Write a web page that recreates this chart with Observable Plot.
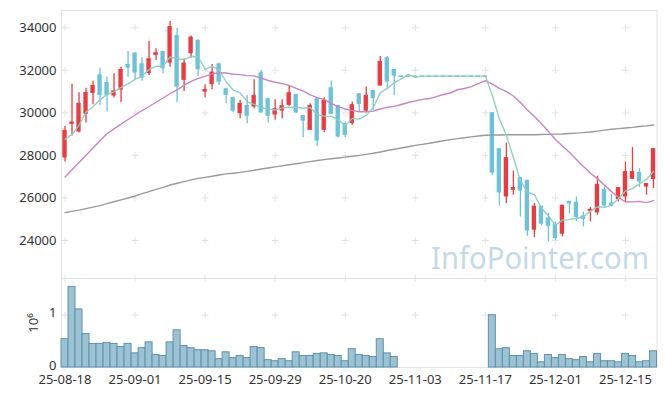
<!DOCTYPE html>
<html><head><meta charset="utf-8">
<script src="https://cdn.jsdelivr.net/npm/d3@7"></script>
<script src="https://cdn.jsdelivr.net/npm/@observablehq/plot@0.6"></script>
<style>
body{margin:0;background:#fff;}
#chart{position:relative;width:665px;height:396px;overflow:hidden;background:#fff;}
#chart svg{position:absolute;left:0;}
</style></head><body><div id="chart"></div>
<script>
// x positions are trading-day indices; labels every 10 trading days
const tickIndex = [0, 10, 20, 30, 40, 50, 60, 70, 80];
const tickLabels = ["25-08-18", "25-09-01", "25-09-15", "25-09-29", "25-10-20", "25-11-03", "25-11-17", "25-12-01", "25-12-15"];
const priceTicks = [24000, 26000, 28000, 30000, 32000, 34000];

const H = 31728; // trading halt: price held at last close (days 48-60)
const open  = [27880,29460,29100,29930,30915,31790,31430,30790,31070,32280,32810,32310,31840,32700,32890,32340,33640,31526,32780,33400,30976,31324,32310,31136,30715,29962,30352,30272,31887,30667,29897,30084,30352,30868,29882,29178,30667,29178,31183,30352,29493,29493,30901,30084,31056,31258,32591,32042,
  H,H,H,H,H,H,H,H,H,H,H,H,H,
  30010,28319,26047,26360,26958,26831,24483,25610,25061,24765,24295,25845,25798,25155,25361,25296,26408,25765,25925,26047,26878,27192,26516,26864];
const close = [29180,29570,30450,30960,31290,30820,30820,31040,32040,32100,31870,31630,32545,32830,32075,34060,31210,32340,33560,32030,31103,31915,31446,30822,30085,30446,29836,30822,29990,29836,30197,30338,30948,29990,29615,30352,28676,30587,29929,28864,28943,30385,30399,30822,30667,32418,31446,31728,
  H,H,H,H,H,H,H,H,H,H,H,H,H,
  27170,26234,27897,26490,26329,24450,25610,24765,24671,24094,25657,25718,25079,24986,25469,26643,25624,25610,26488,27239,27239,26751,26676,28319];
const high  = [29370,31340,30950,31160,31490,32100,31680,31840,32150,32890,32810,32590,33360,33010,32890,34300,33980,32545,33610,33450,31324,32277,32338,31136,30742,30587,30822,31559,31995,30667,30620,30620,31291,30868,29882,30432,30667,30714,31493,30352,29568,30507,30901,31211,31056,32653,32653,32042,
  H,H,H,H,H,H,H,H,H,H,H,H,H,
  30010,28319,28582,27267,26958,26831,25737,25610,25267,24873,25657,25845,26047,25343,25549,27018,26516,26173,26488,27690,28366,27380,26676,28319];
const low   = [27690,28910,29050,29520,30385,30350,30040,30700,30480,31680,31530,31490,31760,32465,31840,32150,30480,31010,32570,31710,30695,31089,31290,30432,30010,29728,29493,30197,29990,29521,29648,29728,30305,29990,28836,29178,28427,29070,29929,28836,28836,29413,30037,29990,30117,31258,31136,30822,
  H,H,H,H,H,H,H,H,H,H,H,H,H,
  27065,25610,25737,26127,25108,24201,24140,24700,23934,24014,24169,25267,24873,24638,24873,25188,25577,25577,25812,25812,26878,26488,26127,26441];
const volume = [540000,1540000,1110000,640000,450000,450000,470000,450000,390000,450000,270000,370000,480000,240000,220000,480000,710000,410000,370000,330000,330000,310000,160000,290000,180000,220000,180000,390000,370000,140000,120000,160000,120000,290000,220000,220000,260000,270000,240000,220000,120000,350000,240000,220000,200000,540000,270000,200000,
  0,0,0,0,0,0,0,0,0,0,0,0,0,
  1000000,350000,370000,220000,220000,310000,260000,100000,240000,180000,240000,160000,140000,200000,100000,260000,120000,120000,100000,260000,220000,100000,120000,310000];

const ma5Head  = [28760, 28990, 29410, 30040];
const ma20Head = [26990,27330,27670,28010,28350,28690,29030,29250,29470,29690,29900,30110,30300,30500,30700,30900,31080,31300,31480];
const ma120 = [25310,25370,25430,25500,25570,25640,25730,25820,25910,26000,26090,26200,26300,26400,26500,26610,26690,26770,26850,26920,26970,27020,27080,27130,27160,27200,27250,27300,27360,27410,27460,27510,27560,27610,27660,27710,27760,27800,27840,27880,27920,27960,28000,28050,28100,28160,28230,28290,28350,28410,28470,28520,28570,28630,28690,28740,28790,28830,28870,28910,28950,28960,28960,28970,28970,28970,28970,28970,28980,28990,29000,29010,29030,29050,29070,29100,29140,29190,29230,29260,29290,29320,29360,29390,29430];

const RED = "#ec3a3f", BLUE = "#6cc3d9";
const days = open.map((o, i) => ({i, open: o, close: close[i], high: high[i], low: low[i], volume: volume[i],
  ma5: i < 4 ? ma5Head[i] : d3.mean(close.slice(i - 4, i + 1)),
  ma20: i < 19 ? ma20Head[i] : d3.mean(close.slice(i - 19, i + 1)),
  ma120: ma120[i]}));
const traded = days.filter(d => d.volume > 0);
const halted = days.filter(d => d.volume === 0);
const col = d => d.close > d.open ? RED : BLUE;

const priceCross = tickIndex.flatMap(x => priceTicks.map(y => ({x, y})));
const volCross = tickIndex.flatMap(x => [1, 1.7].map(y => ({x, y})));

const style = {fontFamily: "'Noto Sans', sans-serif", fontSize: "13px", color: "#333", background: "transparent", overflow: "visible"};
const X = [-0.5, 84.5];

const price = Plot.plot({
  width: 665, height: 278, marginLeft: 61, marginRight: 8.5, marginTop: 10, marginBottom: 0,
  style,
  x: {domain: X, axis: null},
  y: {domain: [22213, 34813], ticks: priceTicks, tickSize: 0, tickPadding: 5, label: null, tickFormat: d => String(d)},
  marks: [
    Plot.frame({stroke: "#e3e3e3"}),
    Plot.text(["InfoPointer.com"], {text: d => d, frameAnchor: "bottom-right", dx: -8, dy: -10, fontSize: 31, fill: "#c5dae6", className: "wm"}),
    Plot.dot(priceCross, {x: "x", y: "y", symbol: "plus", r: 2.3, stroke: "#e2e2e2", strokeWidth: 1}),
    Plot.ruleX(traded, {x: "i", y1: "low", y2: "high", stroke: col, strokeWidth: 1.3}),
    Plot.rect(traded, {x1: d => d.i - 0.31, x2: d => d.i + 0.31, y1: "open", y2: "close", fill: col}),
    Plot.ruleY(halted, {y: "close", x1: d => d.i - 0.31, x2: d => d.i + 0.31, stroke: "#4fb0b8", strokeWidth: 1.3}),
    Plot.line(days, {x: "i", y: "ma120", stroke: "#9a9a9a", strokeWidth: 1.4}),
    Plot.line(days, {x: "i", y: "ma20", stroke: "#c984c2", strokeWidth: 1.4}),
    Plot.line(days, {x: "i", y: "ma5", stroke: "#8acdc1", strokeWidth: 1.4, strokeOpacity: 0.95})
  ]
});
price.style.top = "0px";

const vol = Plot.plot({
  width: 665, height: 119, marginLeft: 61, marginRight: 8.5, marginTop: 1, marginBottom: 29,
  style,
  x: {domain: X, axis: null},
  y: {domain: [0, 1.7], axis: null},
  marks: [
    Plot.frame({stroke: "#e3e3e3"}),
    Plot.dot(volCross, {x: "x", y: "y", symbol: "plus", r: 2.3, stroke: "#e2e2e2", strokeWidth: 1}),
    Plot.rectY(traded, {x1: d => d.i - 0.5, x2: d => d.i + 0.5, y: d => d.volume / 1e6, fill: "#9cc2d3", stroke: "#5e93ab", strokeWidth: 1}),
    Plot.axisX(tickIndex, {tickFormat: i => tickLabels[tickIndex.indexOf(i)], tickSize: 0, tickPadding: 7, label: null}),
    Plot.axisY([0, 1], {tickFormat: d => String(d), tickSize: 0, tickPadding: 5, dy: -2, label: "10⁶", labelAnchor: "center", labelArrow: "none", labelOffset: 33})
  ]
});
vol.style.top = "277px";

const root = document.getElementById("chart");
root.appendChild(price);
root.appendChild(vol);
d3.select(price).selectAll(".wm text").attr("textLength", 218).attr("lengthAdjust", "spacingAndGlyphs");
</script>
</body></html>
